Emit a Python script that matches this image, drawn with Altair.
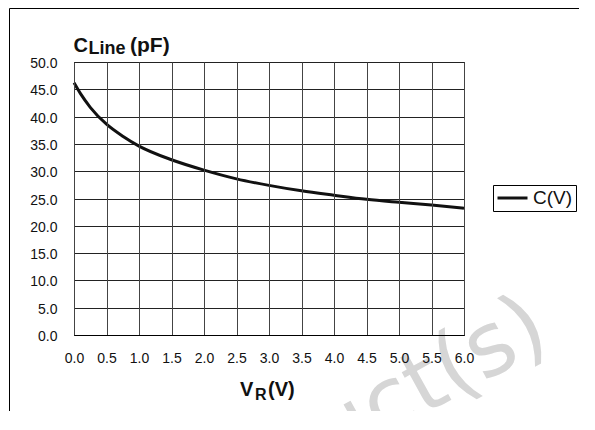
import altair as alt
import pandas as pd

# Data
voltage = [0.0, 0.1, 0.25, 0.5, 0.75, 1.0, 1.5, 2.0, 2.5, 3.0, 3.5, 4.0, 4.5, 5.0, 5.5, 6.0]
capacitance = [46.2, 44.2, 41.7, 38.6, 36.4, 34.6, 32.1, 30.2, 28.6, 27.4, 26.4, 25.6, 24.85, 24.3, 23.8, 23.2]
series_name = ["C(V)"] * len(voltage)

x_ticks = [0.0, 0.5, 1.0, 1.5, 2.0, 2.5, 3.0, 3.5, 4.0, 4.5, 5.0, 5.5, 6.0]
y_ticks = [0.0, 5.0, 10.0, 15.0, 20.0, 25.0, 30.0, 35.0, 40.0, 45.0, 50.0]

FONT = "Liberation Sans"

df = pd.DataFrame({"V": voltage, "C": capacitance, "series": series_name})

line = alt.Chart(df).mark_line(strokeWidth=3, interpolate="monotone").encode(
    x=alt.X("V:Q", scale=alt.Scale(domain=[0, 6], nice=False),
            axis=alt.Axis(values=x_ticks, format=".1f", title=None, ticks=False,
                          labelPadding=16, labelFontSize=14, labelFont=FONT,
                          labelColor="#111", gridColor="#444", gridOpacity=1,
                          domainColor="#000", labelFlush=False, zindex=1)),
    y=alt.Y("C:Q", scale=alt.Scale(domain=[0, 50], nice=False),
            axis=alt.Axis(values=y_ticks, format=".1f", title=None, ticks=False,
                          labelPadding=17, labelFontSize=14, labelFont=FONT,
                          labelColor="#111", gridColor="#222", gridOpacity=1,
                          domainColor="#000", labelOffset=1.5, labelFlush=False)),
    color=alt.Color("series:N", scale=alt.Scale(range=["#111111"]),
                    legend=alt.Legend(title=None, orient="none", legendX=419, legendY=123,
                                      strokeColor="#000", padding=3, symbolType="stroke",
                                      symbolSize=900, symbolStrokeWidth=3, clipHeight=20,
                                      labelFontSize=19, labelFont=FONT, labelColor="#111",
                                      labelOffset=4)),
)

def txt(s, x, y, size, bold=True, color="#111", angle=0, align="left", baseline="alphabetic", font=FONT):
    kw = dict(text=s, fontSize=size, font=font, fontWeight="bold" if bold else "normal",
              color=color, align=align, baseline=baseline)
    if angle:
        kw["angle"] = angle
    return alt.Chart(pd.DataFrame({"k": [0]})).mark_text(**kw).encode(
        x=alt.value(x), y=alt.value(y))

# Y title C_Line(pF)
t1 = txt("C", -0.5, -10.5, 20)
t2 = txt("Line", 14.5, -8, 18)
t3 = txt("(pF)", 56, -10.5, 21)
# X title V_R(V)
t4 = txt("V", 166, 334, 20)
t5 = txt("R", 181, 338, 16)
t6 = txt("(V)", 194, 334, 20)

# watermark
wm = txt("uct(s)", 356, 320, 88, bold=False, color="#d6d6d6", angle=331,
         align="center", baseline="middle", font="DejaVu Sans")

# outer frame (top and left edges)
frame_top = alt.Chart(pd.DataFrame({"k": [0]})).mark_rule(color="#000", strokeWidth=1).encode(
    x=alt.value(-64.5), x2=alt.value(520), y=alt.value(-53.5))
frame_left = alt.Chart(pd.DataFrame({"k": [0]})).mark_rule(color="#000", strokeWidth=1).encode(
    x=alt.value(-64.5), y=alt.value(-53.5), y2=alt.value(400))

chart = alt.layer(wm, line, t1, t2, t3, t4, t5, t6, frame_top, frame_left).properties(
    width=390, height=273,
    autosize=alt.AutoSizeParams(type="none"),
    padding={"left": 66, "top": 54, "right": 115, "bottom": 76},
).configure_view(stroke="#000", strokeWidth=1).configure_axis(gridWidth=1, domainWidth=1)

chart.save("out.html", embed_options={"renderer": "svg", "actions": False})
